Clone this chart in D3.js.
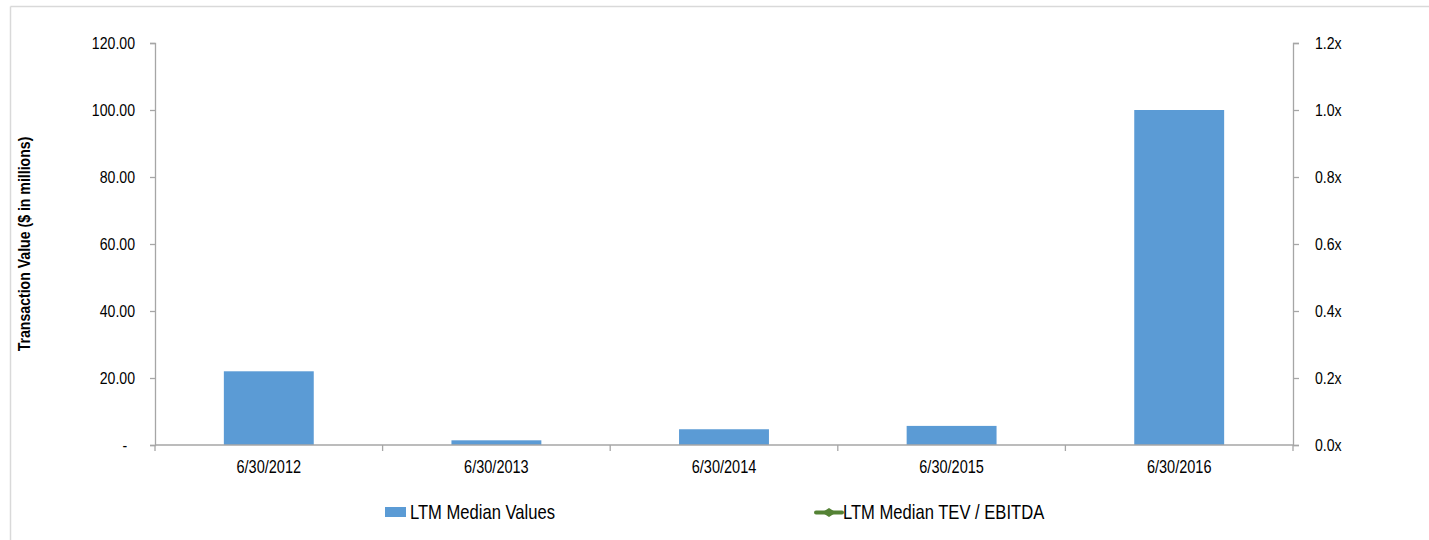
<!DOCTYPE html>
<html>
<head>
<meta charset="utf-8">
<script src="https://cdn.jsdelivr.net/npm/d3@7"></script>
<style>
  html, body { margin: 0; padding: 0; background: #fff; }
  svg { display: block; }
  text { font-family: "Liberation Sans", Arial, sans-serif; fill: #000; }
</style>
</head>
<body>
<svg id="chart" width="1429" height="540"></svg>
<script>
// ---- data ----
const categories = ["6/30/2012", "6/30/2013", "6/30/2014", "6/30/2015", "6/30/2016"];
const medianValues = [22.0, 1.4, 4.7, 5.7, 100.0];          // LTM Median Values ($ in millions)
const tevEbitda = [null, null, null, null, null];            // LTM Median TEV / EBITDA (no visible points)
const leftTicks = [0, 20, 40, 60, 80, 100, 120];
const rightTicks = [0, 0.2, 0.4, 0.6, 0.8, 1.0, 1.2];
const seriesNames = ["LTM Median Values", "LTM Median TEV / EBITDA"];
const yTitle = "Transaction Value ($ in millions)";

// ---- layout ----
const W = 1429, H = 540;
const plot = { left: 155, right: 1293, top: 43, bottom: 445 };
const barColor = "#5B9BD5";
const lineColor = "#548235";
const axisColor = "#A6A6A6";
const K = 0.83; // horizontal condensing of text (narrow face look)

const svg = d3.select("#chart");

// condense text horizontally around its own anchor point
function narrow(sel) {
  sel.each(function () {
    const t = d3.select(this);
    const xv = +t.attr("x") || 0;
    const prev = t.attr("transform") || "";
    t.attr("x", xv / K).attr("transform", prev + ` scale(${K},1)`);
  });
}

// outer frame (top + left lines)
svg.append("line").attr("x1", 10.5).attr("x2", W).attr("y1", 6.5).attr("y2", 6.5)
  .attr("stroke", "#D9D9D9").attr("stroke-width", 1.5);
svg.append("line").attr("x1", 10.5).attr("x2", 10.5).attr("y1", 6.5).attr("y2", H)
  .attr("stroke", "#D9D9D9").attr("stroke-width", 1.5);

const x = d3.scaleBand().domain(categories).range([plot.left, plot.right]).paddingInner(0.605).paddingOuter(0.3025);
const xEdge = d3.scaleLinear().domain([0, categories.length]).range([plot.left, plot.right]);
const yL = d3.scaleLinear().domain([0, 120]).range([plot.bottom, plot.top]);
const yR = d3.scaleLinear().domain([0, 1.2]).range([plot.bottom, plot.top]);

// bars
svg.append("g").selectAll("rect").data(medianValues).join("rect")
  .attr("x", (d, i) => x(categories[i]))
  .attr("width", x.bandwidth())
  .attr("y", d => yL(d))
  .attr("height", d => yL(0) - yL(d))
  .attr("fill", barColor);

// line series (no data points drawn when null)
const lineGen = d3.line().defined(d => d != null)
  .x((d, i) => x(categories[i]) + x.bandwidth() / 2)
  .y(d => yR(d));
svg.append("path").datum(tevEbitda).attr("d", lineGen)
  .attr("fill", "none").attr("stroke", lineColor).attr("stroke-width", 3);

// left axis
const gL = svg.append("g").attr("transform", `translate(${plot.left},0)`)
  .call(d3.axisLeft(yL).tickValues(leftTicks).tickSize(5).tickPadding(15)
    .tickFormat(d => d === 0 ? "-\u00a0\u00a0" : d3.format(".2f")(d)));
// right axis
const gR = svg.append("g").attr("transform", `translate(${plot.right},0)`)
  .call(d3.axisRight(yR).tickValues(rightTicks).tickSize(6).tickPadding(16)
    .tickFormat(d => d3.format(".1f")(d) + "x"));
[gL, gR].forEach(g => {
  g.select(".domain").attr("stroke", axisColor).attr("stroke-width", 1.3);
  g.selectAll(".tick line").attr("stroke", axisColor).attr("stroke-width", 1.3);
  g.selectAll(".tick text").attr("font-size", 17).attr("font-family", null).attr("fill", "#000").call(narrow);
});

// x axis
const gX = svg.append("g").attr("transform", `translate(0,${plot.bottom})`);
gX.append("line").attr("x1", plot.left).attr("x2", plot.right).attr("y1", 0).attr("y2", 0)
  .attr("stroke", axisColor).attr("stroke-width", 1.5);
gX.selectAll("line.tk").data(d3.range(categories.length + 1)).join("line").attr("class", "tk")
  .attr("x1", d => xEdge(d)).attr("x2", d => xEdge(d)).attr("y1", 0).attr("y2", 6)
  .attr("stroke", axisColor).attr("stroke-width", 1.3);
gX.selectAll("text").data(categories).join("text")
  .attr("x", d => x(d) + x.bandwidth() / 2).attr("y", 28)
  .attr("text-anchor", "middle").attr("font-size", 17.5).text(d => d).call(narrow);

// y title
svg.append("text").attr("transform", `translate(30,${(plot.top + plot.bottom) / 2}) rotate(-90) scale(${K},1)`)
  .attr("text-anchor", "middle").attr("font-size", 17).attr("font-weight", "bold").text(yTitle);

// legend
const lg = svg.append("g");
lg.append("rect").attr("x", 385).attr("y", 507).attr("width", 21).attr("height", 10).attr("fill", barColor);
lg.append("text").attr("x", 410).attr("y", 519).attr("font-size", 20).text(seriesNames[0]).call(narrow);
lg.append("line").attr("x1", 816).attr("x2", 842).attr("y1", 512.5).attr("y2", 512.5)
  .attr("stroke", lineColor).attr("stroke-width", 4).attr("stroke-linecap", "round");
lg.append("path").attr("d", "M822,512.5 L829,508 L836,512.5 L829,517 Z").attr("fill", lineColor);
lg.append("text").attr("x", 843).attr("y", 519).attr("font-size", 20).text(seriesNames[1]).call(narrow);
</script>
</body>
</html>
